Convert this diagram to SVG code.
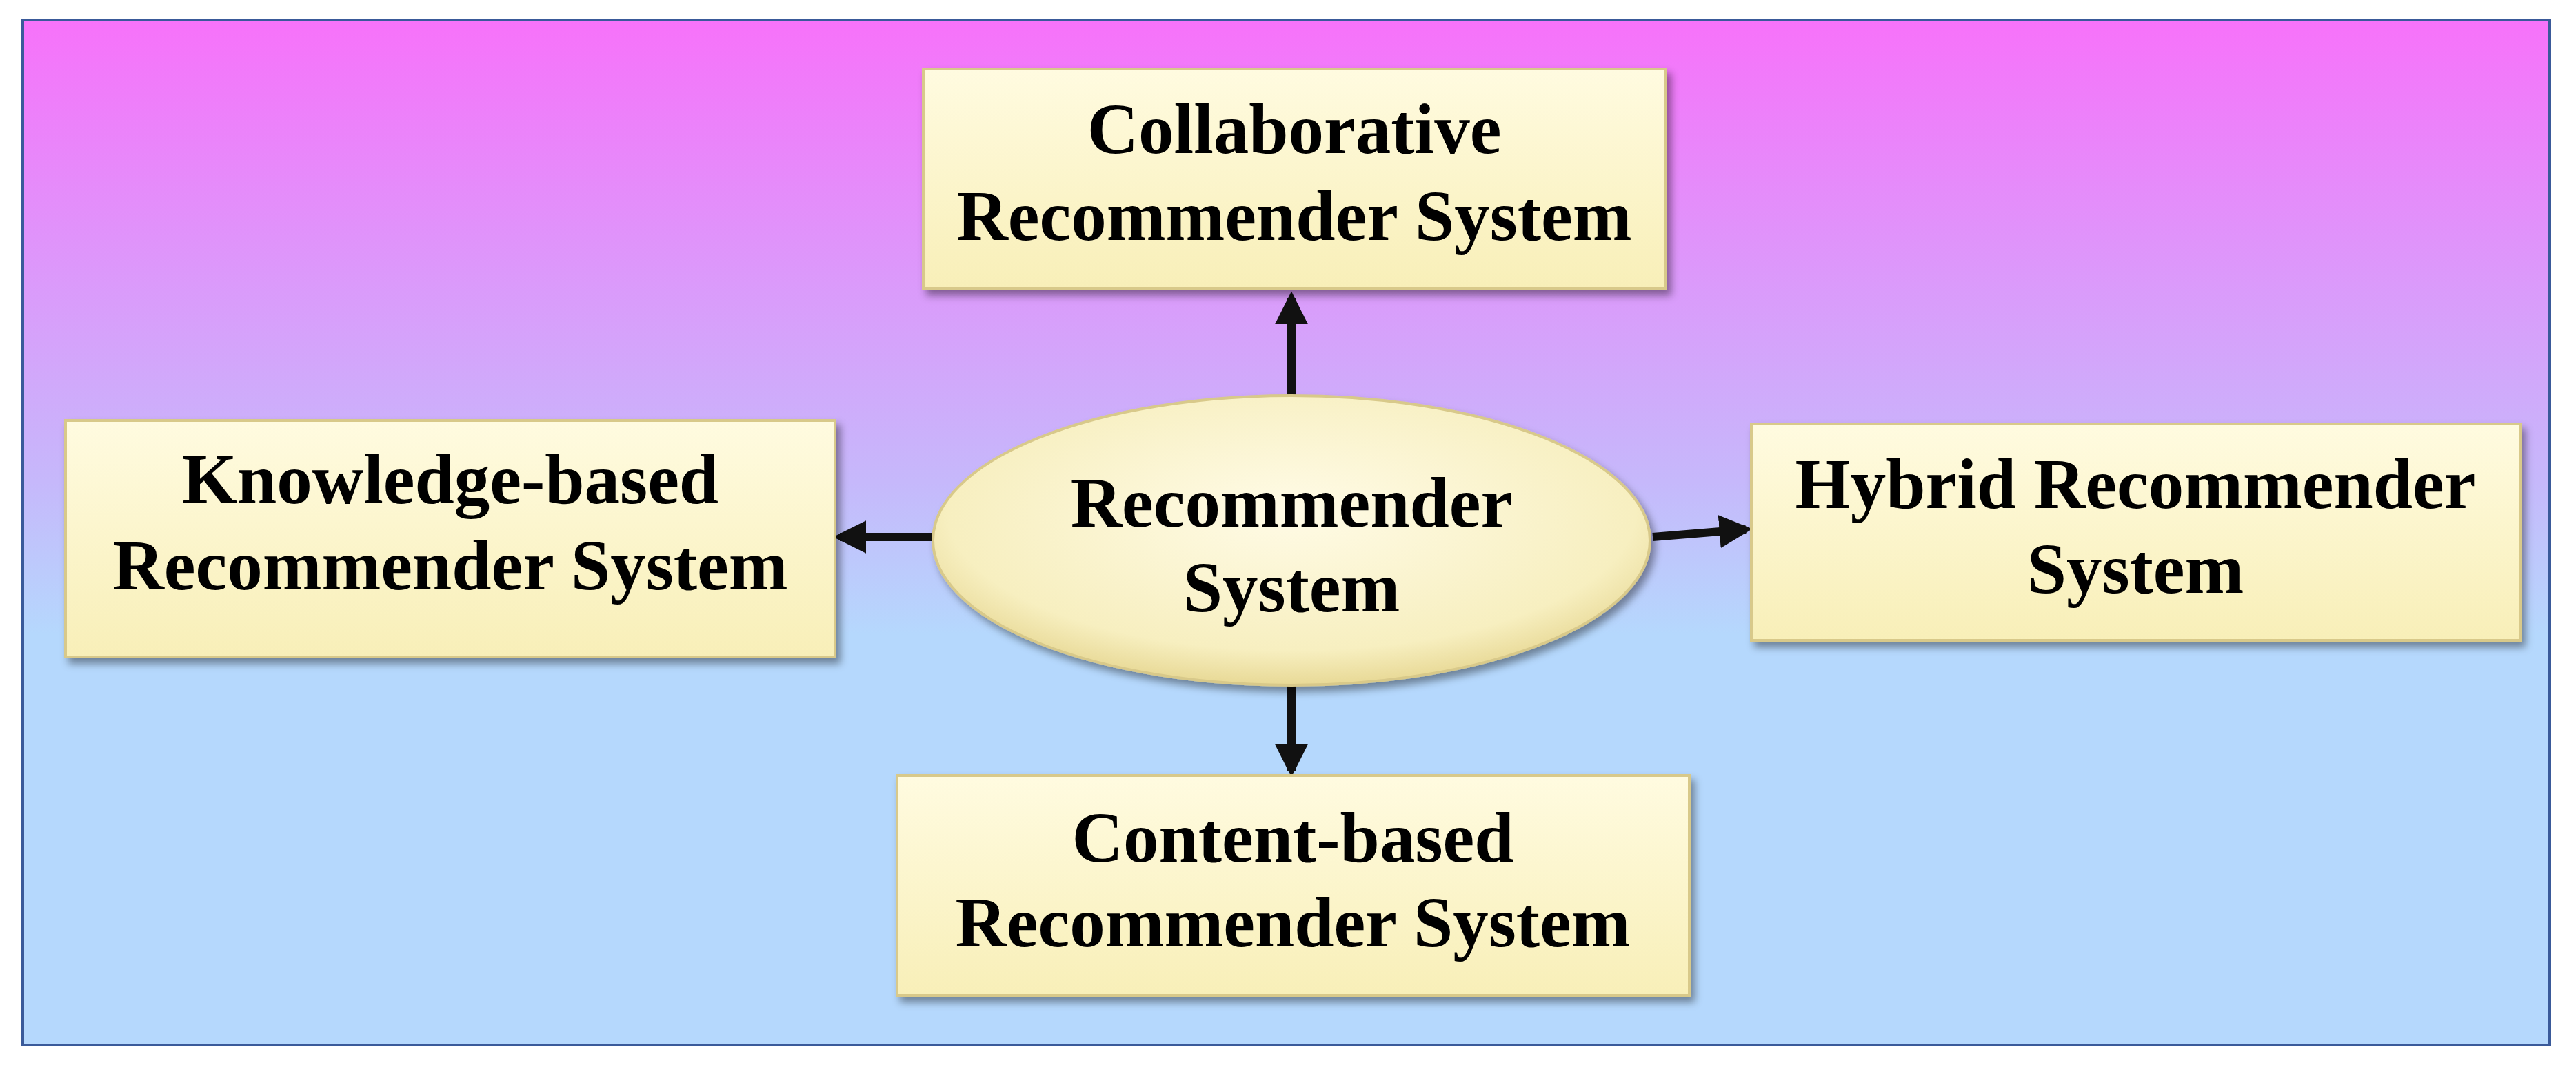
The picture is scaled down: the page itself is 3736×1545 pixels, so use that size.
<svg xmlns="http://www.w3.org/2000/svg" width="3736" height="1545" viewBox="0 0 3736 1545">
<defs>
<linearGradient id="bg" x1="0" y1="0" x2="0" y2="1">
<stop offset="0" stop-color="#f772fa"/>
<stop offset="0.45" stop-color="#c6b8fb"/>
<stop offset="0.6" stop-color="#b5d8fd"/>
<stop offset="1" stop-color="#b5d8fd"/>
</linearGradient>
<linearGradient id="box" x1="0" y1="0" x2="0" y2="1">
<stop offset="0" stop-color="#fffbe0"/>
<stop offset="1" stop-color="#f8efb8"/>
</linearGradient>
<radialGradient id="ell" cx="0.5" cy="0.4" r="0.6">
<stop offset="0" stop-color="#fffbe6"/>
<stop offset="0.8" stop-color="#f7efc0"/>
<stop offset="1" stop-color="#e8d996"/>
</radialGradient>
<filter id="sh" x="-10%" y="-10%" width="120%" height="130%">
<feDropShadow dx="6" dy="8" stdDeviation="6" flood-color="#000" flood-opacity="0.4"/>
</filter>
<marker id="ah" viewBox="0 0 10 10" refX="8" refY="5" markerWidth="4" markerHeight="4" orient="auto">
<path d="M0,0 L10,5 L0,10 z" fill="#111"/>
</marker>
</defs>
<style>
.b{fill:url(#box);stroke:#d8c98a;stroke-width:4;filter:url(#sh)}
.t{font-family:"Liberation Serif",serif;font-weight:bold;font-size:103px;fill:#000;text-anchor:middle}
.c{stroke:#111;stroke-width:12;fill:none;marker-end:url(#ah)}
</style>
<rect x="33" y="29" width="3665" height="1487" fill="url(#bg)" stroke="#3a5a9a" stroke-width="4"/>
<g id="connectors">
<line class="c" x1="1873" y1="579" x2="1873" y2="432"/>
<line class="c" x1="1873" y1="990" x2="1873" y2="1118"/>
<line class="c" x1="1354" y1="779" x2="1218" y2="779"/>
<line class="c" x1="2397" y1="779" x2="2532" y2="768"/>
</g>
<g id="center">
<ellipse cx="1873" cy="784" rx="520" ry="210" fill="url(#ell)" stroke="#d8c98a" stroke-width="4" filter="url(#sh)"/>
<text class="t" x="1873" y="764">Recommender</text>
<text class="t" x="1873" y="887">System</text>
</g>
<g id="collab">
<rect class="b" x="1339" y="100" width="1077" height="319"/>
<text class="t" x="1877" y="222">Collaborative</text>
<text class="t" x="1877" y="348">Recommender System</text>
</g>
<g id="knowledge">
<rect class="b" x="95" y="610" width="1116" height="343"/>
<text class="t" x="653" y="730">Knowledge-based</text>
<text class="t" x="653" y="855">Recommender System</text>
</g>
<g id="hybrid">
<rect class="b" x="2540" y="615" width="1115" height="314"/>
<text class="t" x="3097" y="737">Hybrid Recommender</text>
<text class="t" x="3097" y="860">System</text>
</g>
<g id="content">
<rect class="b" x="1301" y="1125" width="1149" height="319"/>
<text class="t" x="1875" y="1250">Content-based</text>
<text class="t" x="1875" y="1373">Recommender System</text>
</g>
</svg>
